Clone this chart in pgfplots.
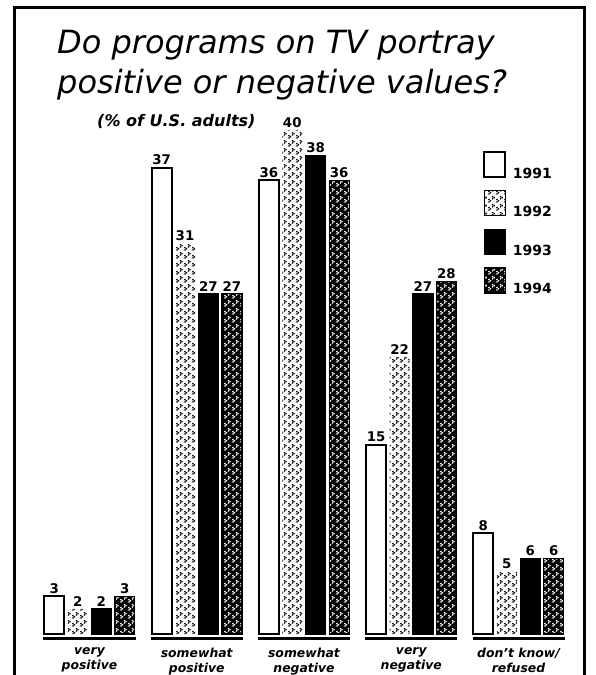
\documentclass[border=0pt]{standalone}
\usepackage{fontspec}
\setmainfont{DejaVu Sans}
\usepackage{pgfplots}
\pgfplotsset{compat=1.18}
\usetikzlibrary{patterns}

\pgfdeclarepatternformonly{chevdots}{\pgfqpoint{0pt}{0pt}}{\pgfqpoint{6pt}{6pt}}{\pgfqpoint{6pt}{6pt}}{
  \pgfpathcircle{\pgfqpoint{0.8pt}{0.8pt}}{0.75pt}
  \pgfpathcircle{\pgfqpoint{2.1pt}{1.8pt}}{0.75pt}
  \pgfpathcircle{\pgfqpoint{0.8pt}{2.8pt}}{0.75pt}
  \pgfpathcircle{\pgfqpoint{3.8pt}{3.4pt}}{0.75pt}
  \pgfpathcircle{\pgfqpoint{5.1pt}{4.4pt}}{0.75pt}
  \pgfpathcircle{\pgfqpoint{3.8pt}{5.25pt}}{0.75pt}
  \pgfusepath{fill}
}

\begin{document}
\begin{tikzpicture}
\useasboundingbox (-67.125pt,-30.75pt) rectangle (379.875pt,475.5pt);
\begin{axis}[
  at={(0pt,0pt)}, anchor=origin,
  x=80.44pt, y=9.45pt,
  xmin=-0.6, xmax=4.6, ymin=0, ymax=45,
  clip=false,
  axis line style={draw=none},
  tick style={draw=none},
  major tick length=0pt,
  ytick=\empty,
  xtick={0,1,2,3,4},
  xticklabels={very\\positive, somewhat\\positive, somewhat\\negative, very\\negative, don't know/\\refused},
  xticklabel style={font=\fontsize{9.3}{11.25}\selectfont\bfseries\itshape, align=center, inner sep=0pt, anchor=north, yshift=-10pt},
  ybar=2.6pt, bar width=15pt,
  nodes near coords,
  every node near coord/.append style={font=\fontsize{10}{12}\selectfont\bfseries, inner sep=1.5pt, anchor=south},
  /pgf/number format/assume math mode=true,
  legend style={draw=none, fill=none, at={(axis cs:3.669,38.33)}, anchor=north west,
    inner sep=0pt, row sep=7.6pt, column sep=5pt,
    font=\fontsize{10.5}{12}\selectfont\bfseries, nodes={inner sep=0pt}},
  legend cell align=left,
  legend image code/.code={\draw[#1] (0pt,-2.5pt) rectangle (15.75pt,16.25pt);},
]
\addplot[draw=black, line width=1.5pt, fill=white] coordinates {(0,3) (1,37) (2,36) (3,15) (4,8)};
\addlegendentry{1991}
\addplot[draw=none, pattern=chevdots, pattern color=black] coordinates {(0,2) (1,31) (2,40) (3,22) (4,5)};
\addlegendentry{1992}
\addplot[draw=black, line width=1pt, fill=black] coordinates {(0,2) (1,27) (2,38) (3,27) (4,6)};
\addlegendentry{1993}
\addplot[draw=black, line width=1pt, fill=black, postaction={pattern=chevdots, pattern color=white}] coordinates {(0,3) (1,27) (2,36) (3,28) (4,6)};
\addlegendentry{1994}
\pgfplotsinvokeforeach{0,1,2,3,4}{
  \draw[line width=2.25pt] ([xshift=-34.5pt,yshift=-3.4pt]axis cs:#1,0) -- ([xshift=34.5pt,yshift=-3.4pt]axis cs:#1,0);
}
\end{axis}
\node[anchor=base west, font=\fontsize{24}{28}\selectfont\itshape, inner sep=0pt] at (-24.4pt,435pt) {Do programs on TV portray};
\node[anchor=base west, font=\fontsize{24}{28}\selectfont\itshape, inner sep=0pt] at (-24.4pt,405pt) {positive or negative values?};
\node[anchor=base west, font=\fontsize{12}{14}\selectfont\bfseries\itshape, inner sep=0pt] at (5.6pt,380.25pt) {(\% of U.S. adults)};
\draw[line width=2.25pt] (-56.25pt,-60pt) rectangle (370.9pt,469.5pt);
\end{tikzpicture}
\end{document}
